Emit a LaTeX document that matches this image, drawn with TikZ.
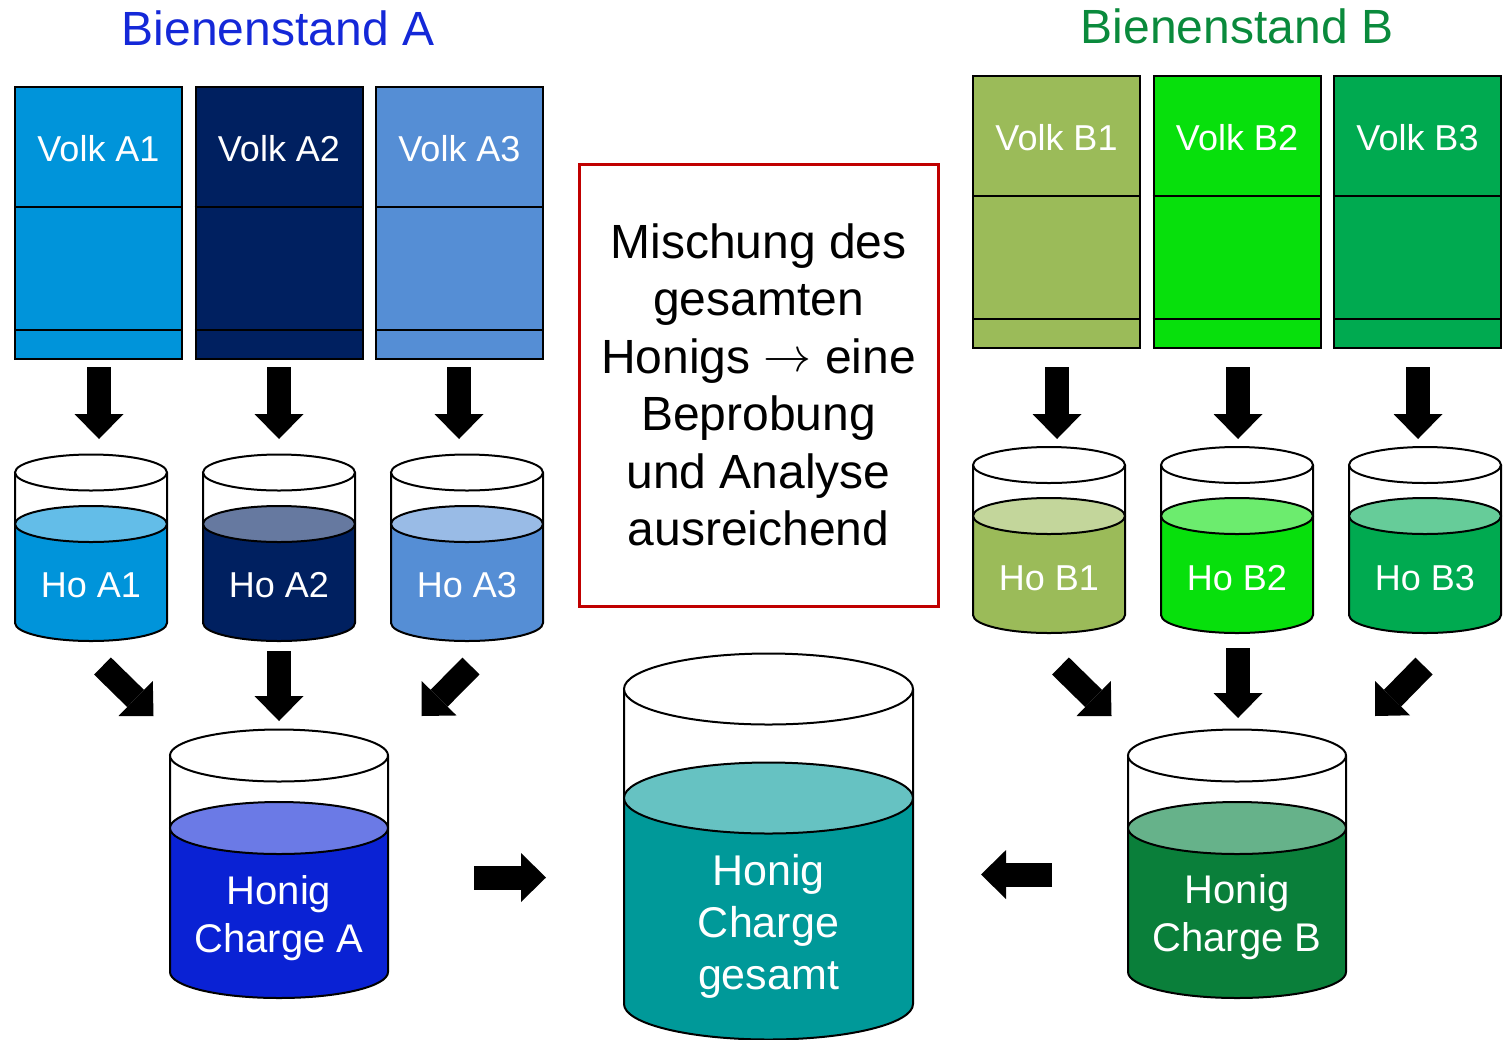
\documentclass[tikz,border=0pt]{standalone}
\usepackage{graphicx}
\usepackage{fontspec}
\setmainfont{Liberation Sans}
\usetikzlibrary{arrows.meta}

% colour pairs: body / liquid surface
\definecolor{cA1}{HTML}{0094DA}\definecolor{cA1l}{HTML}{63BDE8}
\definecolor{cA2}{HTML}{002060}\definecolor{cA2l}{HTML}{6679A0}
\definecolor{cA3}{HTML}{558ED5}\definecolor{cA3l}{HTML}{99BBE6}
\definecolor{cCA}{HTML}{0A22D4}\definecolor{cCAl}{HTML}{6B7AE6}
\definecolor{cG}{HTML}{009999}\definecolor{cGl}{HTML}{66C2C2}
\definecolor{cB1}{HTML}{9BBB59}\definecolor{cB1l}{HTML}{C3D69B}
\definecolor{cB2}{HTML}{07E00C}\definecolor{cB2l}{HTML}{6CEC6E}
\definecolor{cB3}{HTML}{00AA50}\definecolor{cB3l}{HTML}{66CC99}
\definecolor{cCB}{HTML}{0A7F3A}\definecolor{cCBl}{HTML}{66B28A}
\definecolor{titleA}{HTML}{1428D8}
\definecolor{titleB}{HTML}{0A8A3C}
\definecolor{redc}{HTML}{C00000}

\tikzset{
  volk/.style={draw=black, line width=2pt, minimum width=167pt,
    minimum height=272pt, inner sep=0pt},
  divider/.style={draw=black, line width=2pt},
  lbl/.style={text=white, inner sep=0pt, font=\fontsize{36}{43}\selectfont},
  chargelbl/.style={text=white, inner sep=0pt, align=center,
    font=\fontsize{40}{48}\selectfont},
  title/.style={anchor=base, inner sep=0pt, font=\fontsize{48}{57}\selectfont},
  glasline/.style={draw=black, line width=2pt},
  blockarrow/.style={draw=black, line width=24pt,
    -{Triangle[width=49pt,length=25pt,line width=0pt]}},
}

% thin text arrow sized for the 48pt note text
\newcommand\thinarrow{\raisebox{2pt}{\scalebox{4.8}{\fontsize{10}{12}\selectfont$\rightarrow$}}}

% honey glass: cx, rx, y top rim, y liquid level, y bottom, ry, body, surface
\newcommand\honigglas[8]{%
  \fill[#7] (#1-#2,#4) -- (#1-#2,#5)
    arc[start angle=180,end angle=360,x radius=#2pt,y radius=#6pt]
    -- (#1+#2,#4) -- cycle;
  \draw[glasline] (#1-#2,#3) -- (#1-#2,#5)
    arc[start angle=180,end angle=360,x radius=#2pt,y radius=#6pt]
    -- (#1+#2,#3);
  \draw[glasline, fill=#8] (#1,#4) ellipse[x radius=#2pt,y radius=#6pt];
  \draw[glasline, fill=white] (#1,#3) ellipse[x radius=#2pt,y radius=#6pt];
}

% bee colony box with two divider lines and its label
\newcommand\volkbox[5]{% name, cx, cy, colour, label
  \node[volk, fill=#4] (#1) at (#2,#3) {};
  \draw[divider] ([yshift=-121pt]#1.north west) -- ([yshift=-121pt]#1.north east);
  \draw[divider] ([yshift=30pt]#1.south west) -- ([yshift=30pt]#1.south east);
  \node[lbl, anchor=base] (#1t) at ([yshift=-75pt]#1.north) {#5};
}

\begin{document}
\begin{tikzpicture}[x=1pt, y=-1pt]
\useasboundingbox (0,0) rectangle (1503,1039);

% titles
\node[title, text=titleA] (tA) at (278,45) {Bienenstand A};
\node[title, text=titleB] (tB) at (1237,43) {Bienenstand B};

% colonies
\volkbox{vA1}{98.5}{223}{cA1}{Volk A1}
\volkbox{vA2}{279}{223}{cA2}{Volk A2}
\volkbox{vA3}{459.5}{223}{cA3}{Volk A3}
\volkbox{vB1}{1056.5}{212}{cB1}{Volk B1}
\volkbox{vB2}{1237}{212}{cB2}{Volk B2}
\volkbox{vB3}{1417.5}{212}{cB3}{Volk B3}

% single-colony honey
\honigglas{91}{76}{472.5}{524}{623}{18}{cA1}{cA1l}
\honigglas{279}{76}{472.5}{524}{623}{18}{cA2}{cA2l}
\honigglas{467}{76}{472.5}{524}{623}{18}{cA3}{cA3l}
\honigglas{1049}{76}{465}{516}{615}{18}{cB1}{cB1l}
\honigglas{1237}{76}{465}{516}{615}{18}{cB2}{cB2l}
\honigglas{1425}{76}{465}{516}{615}{18}{cB3}{cB3l}
\node[lbl, anchor=base] (hA1) at (91,597) {Ho A1};
\node[lbl, anchor=base] (hA2) at (279,597) {Ho A2};
\node[lbl, anchor=base] (hA3) at (467,597) {Ho A3};
\node[lbl, anchor=base] (hB1) at (1049,590) {Ho B1};
\node[lbl, anchor=base] (hB2) at (1237,590) {Ho B2};
\node[lbl, anchor=base] (hB3) at (1425,590) {Ho B3};

% batches per apiary
\honigglas{279}{109}{755.5}{828}{972}{26}{cCA}{cCAl}
\honigglas{1237}{109}{755.5}{828}{972}{26}{cCB}{cCBl}
\node[chargelbl] (chA) at (279,918) {Honig\\Charge A};
\node[chargelbl] (chB) at (1237,917) {Honig\\Charge B};

% overall batch
\honigglas{768.5}{144.5}{689}{798}{1004}{35.5}{cG}{cGl}
\node[text=white, inner sep=0pt, align=center, font=\fontsize{43}{52}\selectfont]
  (chG) at (768.5,926) {Honig\\Charge\\gesamt};

% note box
\node[draw=redc, line width=3pt, minimum width=359pt, minimum height=442pt,
  inner sep=0pt, align=center, font=\fontsize{48}{57.5}\selectfont]
  (mix) at (758.5,385)
  {Mischung des\\gesamten\\Honigs \thinarrow{} eine\\Beprobung\\und Analyse\\ausreichend};

% arrow end points
\coordinate (aA1s) at (99,367);   \coordinate (aA1e) at (99,439);
\coordinate (aA2s) at (279,367);  \coordinate (aA2e) at (279,439);
\coordinate (aA3s) at (459,367);  \coordinate (aA3e) at (459,439);
\coordinate (aB1s) at (1057,367); \coordinate (aB1e) at (1057,439);
\coordinate (aB2s) at (1238,367); \coordinate (aB2e) at (1238,439);
\coordinate (aB3s) at (1418,367); \coordinate (aB3e) at (1418,439);
\coordinate (cA1s) at (102.5,666); \coordinate (cA1e) at (153.5,716);
\coordinate (cA2s) at (279,651);   \coordinate (cA2e) at (279,721);
\coordinate (cA3s) at (471,666);   \coordinate (cA3e) at (421.5,716);
\coordinate (cB1s) at (1060.5,666); \coordinate (cB1e) at (1111.5,716);
\coordinate (cB2s) at (1238,648);   \coordinate (cB2e) at (1238,718);
\coordinate (cB3s) at (1424,666);   \coordinate (cB3e) at (1375,716);
\coordinate (gAs) at (474,877.5);  \coordinate (gAe) at (546,877.5);
\coordinate (gBs) at (1052,874.5); \coordinate (gBe) at (981,874.5);

\foreach \a in {aA1,aA2,aA3,aB1,aB2,aB3,cA1,cA2,cA3,cB1,cB2,cB3,gA,gB}
  \draw[blockarrow] (\a s) -- (\a e);
\end{tikzpicture}
\end{document}
